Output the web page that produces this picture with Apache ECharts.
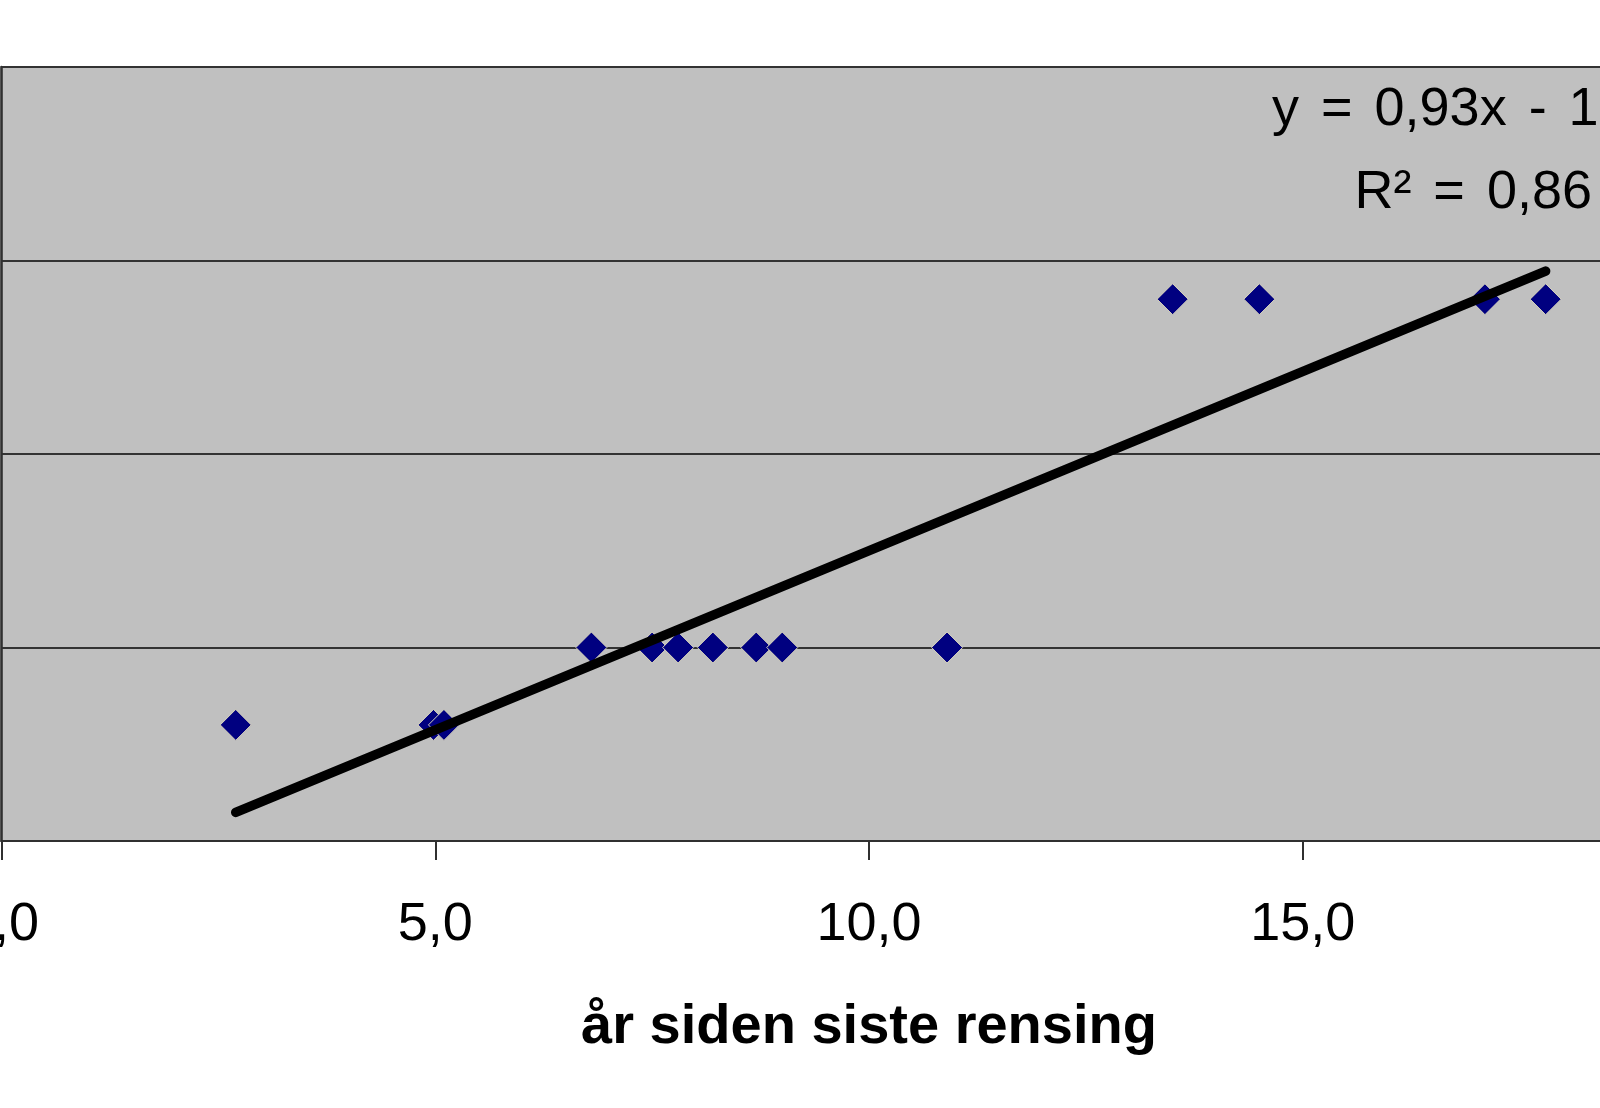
<!DOCTYPE html>
<html>
<head>
<meta charset="utf-8">
<script src="https://cdn.jsdelivr.net/npm/echarts@6/dist/echarts.min.js"></script>
<style>
  html, body { margin: 0; padding: 0; background: #fff; }
  #chart { width: 1600px; height: 1108px; }
</style>
</head>
<body>
<div id="chart"></div>
<script>
/* data: år siden siste rensing (x) vs. verdi (y) */
var aarSiden = [2.7, 4.98, 5.1, 6.8, 7.5, 7.8, 8.2, 8.7, 9.0, 10.9, 13.5, 14.5, 17.1, 17.8];
var verdier  = [3, 3, 3, 5, 5, 5, 5, 5, 5, 5, 14, 14, 14, 14];
var xTicks = [0, 5, 10, 15, 20];

var punkter = [];
for (var i = 0; i < aarSiden.length; i++) {
    punkter.push([aarSiden[i], verdier[i]]);
}

/* lineær trendlinje (minste kvadraters metode) */
var n = aarSiden.length, sx = 0, sy = 0;
for (var i = 0; i < n; i++) { sx += aarSiden[i]; sy += verdier[i]; }
var mx = sx / n, my = sy / n, sxy = 0, sxx = 0, syy = 0;
for (var i = 0; i < n; i++) {
    sxy += (aarSiden[i] - mx) * (verdier[i] - my);
    sxx += (aarSiden[i] - mx) * (aarSiden[i] - mx);
    syy += (verdier[i] - my) * (verdier[i] - my);
}
var stigning = sxy / sxx;
var konstant = my - stigning * mx;
var r2 = (sxy * sxy) / (sxx * syy);
var xMin = Math.min.apply(null, aarSiden), xMax = Math.max.apply(null, aarSiden);
var trend = [[xMin, stigning * xMin + konstant], [xMax, stigning * xMax + konstant]];

function komma(v, d) { return v.toFixed(d).replace('.', ','); }
// Excel setter litt bredere mellomrom i trendlinje-etiketten
var sp = '{s| }';
var ligning = 'y' + sp + '=' + sp + komma(stigning, 2) + 'x' + sp + (konstant < 0 ? '-' : '+') + sp + komma(Math.abs(konstant), 2);
var r2tekst = 'R\u00b2' + sp + '=' + sp + komma(r2, 2);

var font = '"Liberation Sans", Arial, sans-serif';
var spStil = { s: { width: 22, fontSize: 54, fontFamily: font } };
var chart = echarts.init(document.getElementById('chart'));
chart.setOption({
    animation: false,
    backgroundColor: '#ffffff',
    grid: {
        left: 1.5,
        top: 67,
        width: 1735,
        height: 774,
        containLabel: false,
        outerBoundsMode: 'none',
        show: true,
        backgroundColor: '#c0c0c0',
        borderColor: '#8a8a8a',
        borderWidth: 2
    },
    xAxis: {
        type: 'value',
        min: xTicks[0],
        max: xTicks[xTicks.length - 1],
        interval: 5,
        name: 'år siden siste rensing',
        nameLocation: 'middle',
        nameGap: 159,
        nameTextStyle: { fontFamily: font, fontSize: 56, fontWeight: 'bold', color: '#000' },
        axisLine: { show: true, onZero: false, lineStyle: { color: '#303030', width: 2 } },
        axisTick: { show: true, length: 19, lineStyle: { color: '#303030', width: 2 } },
        axisLabel: {
            margin: 57,
            fontFamily: font,
            fontSize: 54,
            color: '#000',
            formatter: function (v) { return komma(v, 1); }
        },
        splitLine: { show: false }
    },
    yAxis: {
        type: 'value',
        min: 0,
        max: 20,
        interval: 5,
        axisLine: { show: true, lineStyle: { color: '#303030', width: 2.5 } },
        axisTick: { show: false },
        axisLabel: { show: false },
        splitLine: { show: true, lineStyle: { color: '#333333', width: 2 } }
    },
    graphic: [
        {
            type: 'text', z: 100,
            style: { x: 1272, y: 110, text: ligning, rich: spStil, font: '54px ' + font, fill: '#000', verticalAlign: 'middle' }
        },
        {
            type: 'text', z: 100,
            style: { x: 1592, y: 193, text: r2tekst, rich: spStil, font: '54px ' + font, fill: '#000', align: 'right', verticalAlign: 'middle' }
        }
    ],
    series: [
        {
            name: 'punkter',
            type: 'scatter',
            data: punkter,
            symbol: 'diamond',
            symbolSize: 31,
            itemStyle: { color: '#000080', opacity: 1, borderColor: '#d8d4bc', borderWidth: 1 },
            z: 2
        },
        {
            name: 'trend',
            type: 'line',
            data: trend,
            symbol: 'none',
            lineStyle: { color: '#000', width: 9.5, cap: 'round' },
            z: 3
        }
    ]
});
</script>
</body>
</html>
